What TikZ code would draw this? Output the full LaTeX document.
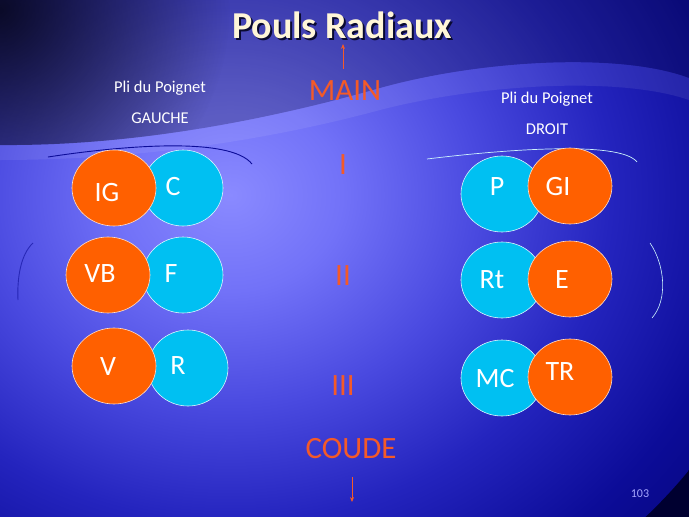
\documentclass[tikz,border=0pt]{standalone}
\usepackage{fontspec}
\setmainfont{Carlito}
\usetikzlibrary{shapes.geometric,arrows.meta,fadings}
\definecolor{orng}{HTML}{FF6000}
\definecolor{cyn}{HTML}{00C0F2}
\definecolor{lbl}{HTML}{F45A28}
\definecolor{cream}{HTML}{FFF6D8}
\definecolor{shadowc}{HTML}{0A0A30}
\definecolor{bg0}{HTML}{8A8AFF}
\definecolor{bg1}{HTML}{7272F8}
\definecolor{bg2}{HTML}{4A4AE0}
\definecolor{bg3}{HTML}{2424BE}
\definecolor{bg4}{HTML}{0C0C98}
\definecolor{bg5}{HTML}{030372}
\definecolor{bg6}{HTML}{000050}
\definecolor{bg7}{HTML}{000030}
\pgfdeclareradialshading{bgshade}{\pgfpoint{0bp}{0bp}}{%
  color(0bp)=(bg0); color(5bp)=(bg1); color(11bp)=(bg2); color(17bp)=(bg3);
  color(23bp)=(bg4); color(30bp)=(bg5); color(37.5bp)=(bg6); color(50bp)=(bg7); color(100bp)=(bg7)}
\tikzfading[name=cornerfade, inner color=transparent!0, outer color=transparent!100]
\newcommand{\shadowed}[1]{\rlap{\kern2pt\raisebox{-2pt}{\textcolor{shadowc}{#1}}}#1}
\tikzset{
  pulse/.style={ellipse, draw=white!85!cyn, line width=0.6pt, inner sep=0pt, minimum width=84pt, minimum height=76pt},
  orangepulse/.style={pulse, fill=orng, draw=white!80!orng},
  cyanpulse/.style={pulse, fill=cyn, minimum width=80pt},
  ptxt/.style={text=white, font=\fontsize{28}{30}\selectfont, inner sep=0pt},
  axis/.style={text=lbl, font=\fontsize{31}{32}\selectfont, inner sep=0pt},
  small/.style={text=white, font=\fontsize{16.5}{18}\selectfont, inner sep=0pt},
  arr/.style={draw=lbl, line width=0.8pt, -{Stealth[length=5pt,width=4pt]}},
  fold/.style={line width=0.9pt}
}
\begin{document}
\begin{tikzpicture}[x=1pt,y=-1pt]
\useasboundingbox (0,0) rectangle (689,517);
% background
\begin{scope}
\clip (0,0) rectangle (689,517);
\fill[bg7] (0,0) rectangle (689,517);
\shade[shading=bgshade] (230,195) ellipse (560 and 480);
% darker upper region above the wave
\begin{scope}
\clip (0,0) -- (0,145) .. controls (120,146) and (250,125) .. (380,88) .. controls (480,60) and (620,52) .. (689,78) -- (689,0) -- cycle;
\fill[black, opacity=0.22] (0,0) rectangle (689,160);
\fill[black, opacity=0.75, path fading=cornerfade] (0,10) circle (230);
\end{scope}
% lighter band along the wave
\fill[white, opacity=0.08] (0,145) .. controls (120,146) and (250,125) .. (380,88) .. controls (480,60) and (620,52) .. (689,78) -- (689,100) .. controls (620,76) and (480,84) .. (380,110) .. controls (250,145) and (120,160) .. (0,160) -- cycle;
\end{scope}
% title
\node[text=cream, font=\bfseries\fontsize{38}{40}\selectfont, inner sep=0pt] (title) at (342,26) {\shadowed{Pouls Radiaux}};
% central axis labels
\node[axis] (main) at (345,91) {MAIN};
\node[axis] (i) at (343,165) {I};
\node[axis] (ii) at (343,276) {II};
\node[axis] (iii) at (343,386) {III};
\node[axis] (coude) at (351,449) {COUDE};
\coordinate (upstart) at (343,69);
\coordinate (upend) at (343,44);
\coordinate (downstart) at (352,477);
\coordinate (downend) at (352,502);
\draw[arr] (upstart) -- (upend);
\draw[arr] (downstart) -- (downend);
% side labels
\node[small] (pliG) at (160,88) {Pli du Poignet};
\node[small] (gauche) at (160,118) {GAUCHE};
\node[small] (pliD) at (547,99) {Pli du Poignet};
\node[small] (droit) at (547,129) {DROIT};
\node[text=white!65!blue, font=\fontsize{12}{13}\selectfont, inner sep=0pt] (page) at (640,494) {103};
% fold lines
\draw[fold, draw=bg4] (48,157) .. controls (120,146) and (230,136) .. (252,164);
\draw[fold, draw=bg4, opacity=0.6] (33,243) .. controls (20,255) and (17,280) .. (18,300);
\draw[fold, draw=white!80!cyn, line width=0.7pt] (427,159) .. controls (500,150) and (620,140) .. (637,162);
\draw[fold, draw=white!80!cyn, line width=0.6pt] (650,243) .. controls (665,265) and (668,300) .. (652,318);
% left column
\node[cyanpulse] (C) at (183,188) {};
\node[orangepulse] (IG) at (114,188) {};
\node[cyanpulse] (F) at (183,275) {};
\node[orangepulse] (VB) at (108,275) {};
\node[cyanpulse] (R) at (188,368) {};
\node[orangepulse] (V) at (114,366) {};
\node[ptxt] (tIG) at (107,193) {IG};
\node[ptxt] (tC) at (173,187) {C};
\node[ptxt] (tVB) at (100,274) {VB};
\node[ptxt] (tF) at (171,274) {F};
\node[ptxt] (tV) at (108,367) {V};
\node[ptxt] (tR) at (178,366) {R};
% right column
\node[cyanpulse, minimum width=82pt] (P) at (502,194) {};
\node[orangepulse] (GI) at (570,186) {};
\node[cyanpulse, minimum width=82pt] (Rt) at (502,280) {};
\node[orangepulse] (E) at (570,279) {};
\node[cyanpulse, minimum width=82pt] (MC) at (502,378) {};
\node[orangepulse] (TR) at (570,377) {};
\node[ptxt] (tP) at (497,187) {P};
\node[ptxt] (tGI) at (558,187) {GI};
\node[ptxt] (tRt) at (492,280) {Rt};
\node[ptxt] (tE) at (562,280) {E};
\node[ptxt] (tMC) at (495,379) {MC};
\node[ptxt] (tTR) at (560,372) {TR};
\end{tikzpicture}
\end{document}
